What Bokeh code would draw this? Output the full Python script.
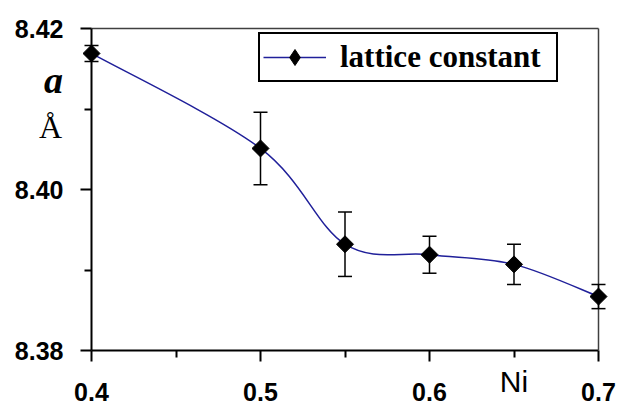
import numpy as np
from bokeh.plotting import figure
from bokeh.models import (Range1d, FixedTicker, PrintfTickFormatter, Whisker, TeeHead,
                          ColumnDataSource, Label, Legend, LegendItem, CDSView, IndexFilter,
                          LinearAxis)
from bokeh.embed import file_html
from bokeh.resources import INLINE

# data
ni = [0.4, 0.5, 0.55, 0.6, 0.65, 0.7]
lattice = [8.4169, 8.4051, 8.3932, 8.3919, 8.3907, 8.3867]
lattice_err = [0.0010, 0.0045, 0.0040, 0.0023, 0.0025, 0.0015]
x_ticks = [0.4, 0.5, 0.6, 0.7]
x_minor = [0.45, 0.55, 0.65]
y_ticks = [8.38, 8.40, 8.42]
y_minor = [8.39, 8.41]

BLUE = "#20209a"
W, H = 620, 410
# axes box position on the canvas (pixels)
L, R, T, B = 91, 598, 28, 350
xs = (x_ticks[-1] - x_ticks[0]) / (R - L)
ys = (y_ticks[-1] - y_ticks[0]) / (B - T)
x_range = Range1d(x_ticks[0] - L * xs, x_ticks[-1] + (W - R) * xs)
y_range = Range1d(y_ticks[0] - (H - B) * ys, y_ticks[-1] + T * ys)

p = figure(width=W, height=H, x_range=x_range, y_range=y_range,
           output_backend="svg", toolbar_location=None, min_border=0)
p.xgrid.visible = False
p.ygrid.visible = False
p.outline_line_color = None
p.background_fill_color = "white"
p.border_fill_color = "white"

# main axes at the box edges
xa, ya = p.xaxis[0], p.yaxis[0]
xa.fixed_location = y_ticks[0]
xa.bounds = (x_ticks[0], x_ticks[-1])
ya.fixed_location = x_ticks[0]
ya.bounds = (y_ticks[0], y_ticks[-1])
for ax in (xa, ya):
    ax.axis_line_width = 2
    ax.axis_line_color = "black"
    ax.major_tick_in = 0
    ax.major_tick_out = 11
    ax.minor_tick_in = 0
    ax.minor_tick_out = 7
    ax.major_tick_line_width = 2
    ax.minor_tick_line_width = 2
    ax.major_label_text_font = "Liberation Sans"
    ax.major_label_text_font_style = "bold"
    ax.major_label_text_font_size = "25px"
    ax.major_label_text_color = "black"
xa.ticker = FixedTicker(ticks=x_ticks, minor_ticks=x_minor)
ya.ticker = FixedTicker(ticks=y_ticks, minor_ticks=y_minor)
xa.formatter = PrintfTickFormatter(format="%.1f")
ya.formatter = PrintfTickFormatter(format="%.2f")
xa.major_label_standoff = 21
ya.major_label_standoff = 17

# top and right box lines
top = LinearAxis(fixed_location=y_ticks[-1], bounds=(x_ticks[0], x_ticks[-1]),
                 ticker=FixedTicker(ticks=[]), major_label_text_font_size="0px",
                 axis_line_color="#404040", axis_line_width=1.5)
right = LinearAxis(fixed_location=x_ticks[-1], bounds=(y_ticks[0], y_ticks[-1]),
                   ticker=FixedTicker(ticks=[]), major_label_text_font_size="0px",
                   axis_line_color="#404040", axis_line_width=1.5)
p.add_layout(top, "above")
p.add_layout(right, "right")

# smooth curve (Catmull-Rom style bezier segments through the data)
n = len(ni)
x0, y0, x1, y1, cx0, cy0, cx1, cy1 = [], [], [], [], [], [], [], []
for i in range(n - 1):
    a = i - 1 if i > 0 else i
    d = i + 2 if i + 2 < n else i + 1
    x0.append(ni[i]); y0.append(lattice[i])
    x1.append(ni[i + 1]); y1.append(lattice[i + 1])
    cx0.append(ni[i] + (ni[i + 1] - ni[a]) / 6); cy0.append(lattice[i] + (lattice[i + 1] - lattice[a]) / 6)
    cx1.append(ni[i + 1] - (ni[d] - ni[i]) / 6); cy1.append(lattice[i + 1] - (lattice[d] - lattice[i]) / 6)
p.bezier(x0=x0, y0=y0, x1=x1, y1=y1, cx0=cx0, cy0=cy0, cx1=cx1, cy1=cy1,
         line_color=BLUE, line_width=1.5)

# error bars
src = ColumnDataSource(dict(x=ni, y=lattice,
                            lo=[v - e for v, e in zip(lattice, lattice_err)],
                            hi=[v + e for v, e in zip(lattice, lattice_err)]))
wh = Whisker(source=src, base="x", lower="lo", upper="hi", line_color="black", line_width=1.5,
             level="overlay",
             upper_head=TeeHead(size=14, line_width=1.5, line_color="black"),
             lower_head=TeeHead(size=14, line_width=1.5, line_color="black"))
p.add_layout(wh)

# legend proxies (a one-point line draws nothing; the diamond hides under the first marker)
one = [0]
leg_line = p.line("x", "y", source=src, view=CDSView(filter=IndexFilter(one)),
                  line_color=BLUE, line_width=1.5)
leg_mark = p.scatter("x", "y", source=src, view=CDSView(filter=IndexFilter(one)),
                     marker="diamond", size=16, fill_color="black", line_color="black")

sc = p.scatter("x", "y", source=src, marker="square", angle=np.pi / 4, size=12,
               fill_color="black", line_color="black", level="overlay")

legend = Legend(items=[LegendItem(label="lattice constant", renderers=[leg_line, leg_mark])],
                location=(258, H - 82), border_line_color="black", border_line_width=2,
                border_line_alpha=1,
                background_fill_color="white", background_fill_alpha=1,
                label_text_font="Liberation Serif", label_text_font_style="bold",
                label_text_font_size="31px", label_text_color="black",
                glyph_width=63, glyph_height=40, label_standoff=14, label_width=213,
                padding=3, margin=0)
p.add_layout(legend)

p.add_layout(Label(x=0.65, y=H - 381, x_units="data", y_units="screen", text="Ni",
                   text_font="Liberation Sans", text_color="black",
                   text_font_size="30px", text_align="center", text_baseline="middle"))
p.add_layout(Label(x=53, y=H - 79, x_units="screen", y_units="screen", text="a",
                   text_color="black",
                   text_font="Liberation Serif", text_font_style="bold italic",
                   text_font_size="38px", text_align="center", text_baseline="alphabetic"))
p.add_layout(Label(x=50, y=H - 126, x_units="screen", y_units="screen", text="Å",
                   text_color="black",
                   text_font="Liberation Serif", text_font_size="32px",
                   text_align="center", text_baseline="alphabetic"))

open("out.html", "w").write(file_html(p, INLINE))
